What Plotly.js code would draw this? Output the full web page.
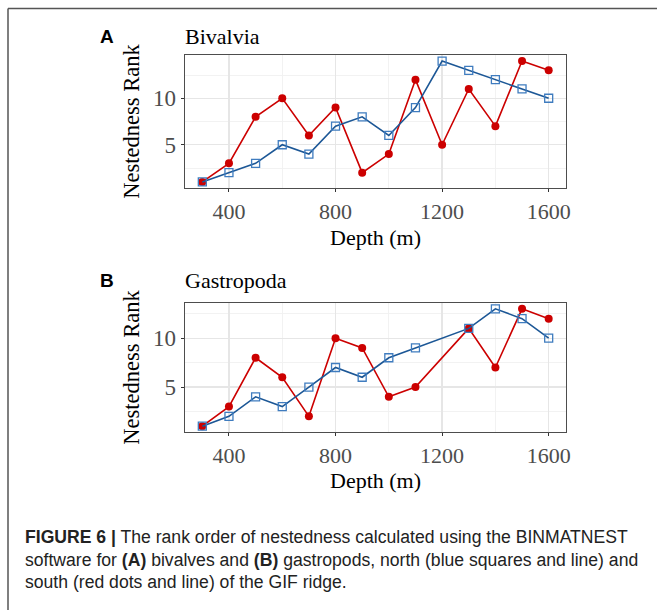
<!DOCTYPE html>
<html><head><meta charset="utf-8">
<script src="https://cdn.plot.ly/plotly-3.0.1.min.js"></script>
<style>html,body{margin:0;padding:0;background:#fff}#chart{width:657px;height:610px}</style>
</head><body><div id="chart"></div>
<script>
const depth = [300,400,500,600,700,800,900,1000,1100,1200,1300,1400,1500,1600];
const bivNorth = [1,2,3,5,4,7,8,6,9,14,13,12,11,10];
const bivSouth = [1,3,8,10,6,9,2,4,12,5,11,7,14,13];
const gasDepth = [300,400,500,600,700,800,900,1000,1100,1300,1400,1500,1600];
const gasNorth = [1,2,4,3,5,7,6,8,9,11,13,12,10];
const gasSouth = [1,3,8,6,2,10,9,4,5,11,7,13,12];
const xTicks = [400,800,1200,1600];
const yTicks = [5,10];
const panelTitles = ["Bivalvia","Gastropoda"];
const panelLetters = ["A","B"];
const xTitle = "Depth (m)";
const yTitle = "Nestedness Rank";
const captionLines = [
  "<b>FIGURE 6 |</b> The rank order of nestedness calculated using the BINMATNEST",
  "software for <b>(A)</b> bivalves and <b>(B)</b> gastropods, north (blue squares and line) and",
  "south (red dots and line) of the GIF ridge."
];

const W=657,H=610;
const RED="#cc0000", BLUE="#1c5796", BLUEM="#3f7cbf";
const serif="Liberation Serif, Times New Roman, serif";
function px(x){return x/W;}
function py(y){return 1-y/H;}

function south(x,y,xa,ya){return {x:x,y:y,xaxis:xa,yaxis:ya,type:"scatter",mode:"lines+markers",
  line:{color:RED,width:1.6},marker:{color:RED,size:8,symbol:"circle"},showlegend:false,name:"South"};}
function north(x,y,xa,ya){return {x:x,y:y,xaxis:xa,yaxis:ya,type:"scatter",mode:"lines+markers",
  line:{color:BLUE,width:1.6},marker:{color:BLUEM,size:8,symbol:"square-open",line:{color:BLUEM,width:1.3}},showlegend:false,name:"North"};}

const data=[
  south(depth,bivSouth,"x","y"), north(depth,bivNorth,"x","y"),
  south(gasDepth,gasSouth,"x2","y2"), north(gasDepth,gasNorth,"x2","y2")
];

function xax(anchor,domain){return {anchor:anchor,domain:domain,range:[235,1665],tickvals:xTicks,ticktext:xTicks.map(String),
  showline:true,mirror:true,linecolor:"#4d4d4d",linewidth:1.3,ticks:"outside",ticklen:3,tickcolor:"#333",
  showgrid:true,gridcolor:"#e6e6e6",gridwidth:1.3,zeroline:false,
  minor:{tickvals:[200,600,1000,1400],showgrid:true,gridcolor:"#f1f1f1",gridwidth:0.9,ticks:""},
  tickfont:{family:serif,size:22,color:"#4d4d4d"}};}
function yax(anchor,domain,range){return {anchor:anchor,domain:domain,range:range,tickvals:yTicks,ticktext:yTicks.map(String),
  showline:true,mirror:true,linecolor:"#4d4d4d",linewidth:1.3,ticks:"outside",ticklen:3,tickcolor:"#333",
  showgrid:true,gridcolor:"#e6e6e6",gridwidth:1.3,zeroline:false,
  minor:{tickvals:[2.5,7.5,12.5],showgrid:true,gridcolor:"#f1f1f1",gridwidth:0.9,ticks:""},
  tickfont:{family:serif,size:23,color:"#4d4d4d"},
  title:{text:yTitle,font:{family:serif,size:22.5,color:"#000"},standoff:7}};}

const annotations=[];
const titleY=[36,280];
const xTitleY=[237,480];
for(let i=0;i<2;i++){
  annotations.push({xref:"paper",yref:"paper",x:px(98),y:py(titleY[i]),xanchor:"left",yanchor:"middle",showarrow:false,
    text:"<b>"+panelLetters[i]+"</b>",font:{family:"Liberation Sans, Arial, sans-serif",size:19,color:"#000"}});
  annotations.push({xref:"paper",yref:"paper",x:px(183),y:py(titleY[i]),xanchor:"left",yanchor:"middle",showarrow:false,
    text:panelTitles[i],font:{family:serif,size:22,color:"#000"}});
  annotations.push({xref:"paper",yref:"paper",x:px(375.5),y:py(xTitleY[i]),xanchor:"center",yanchor:"middle",showarrow:false,
    text:xTitle,font:{family:serif,size:22,color:"#000"}});
}
const capY=[537,560,582];
captionLines.forEach((t,i)=>annotations.push({xref:"paper",yref:"paper",x:px(23),y:py(capY[i]),xanchor:"left",yanchor:"middle",
  showarrow:false,text:t,font:{family:"Liberation Sans, Arial, sans-serif",size:17.6,color:"#222"}}));

const layout={width:W,height:H,margin:{l:0,r:0,t:0,b:0},paper_bgcolor:"#fff",plot_bgcolor:"#fff",showlegend:false,
  xaxis:xax("y",[px(185),px(566)]),
  yaxis:yax("x",[py(188),py(55)],[0.35,14.65]),
  xaxis2:xax("y2",[px(185),px(566)]),
  yaxis2:yax("x2",[py(432),py(303)],[0.4,13.6]),
  annotations:annotations,
  shapes:[
    {type:"line",xref:"paper",yref:"paper",x0:px(8),x1:1,y0:py(8.5),y1:py(8.5),line:{color:"#555",width:1.5}},
    {type:"line",xref:"paper",yref:"paper",x0:px(8),x1:px(8),y0:py(8.5),y1:0,line:{color:"#555",width:1.5}}
  ]};
Plotly.newPlot("chart",data,layout,{staticPlot:true,displayModeBar:false});
</script></body></html>
